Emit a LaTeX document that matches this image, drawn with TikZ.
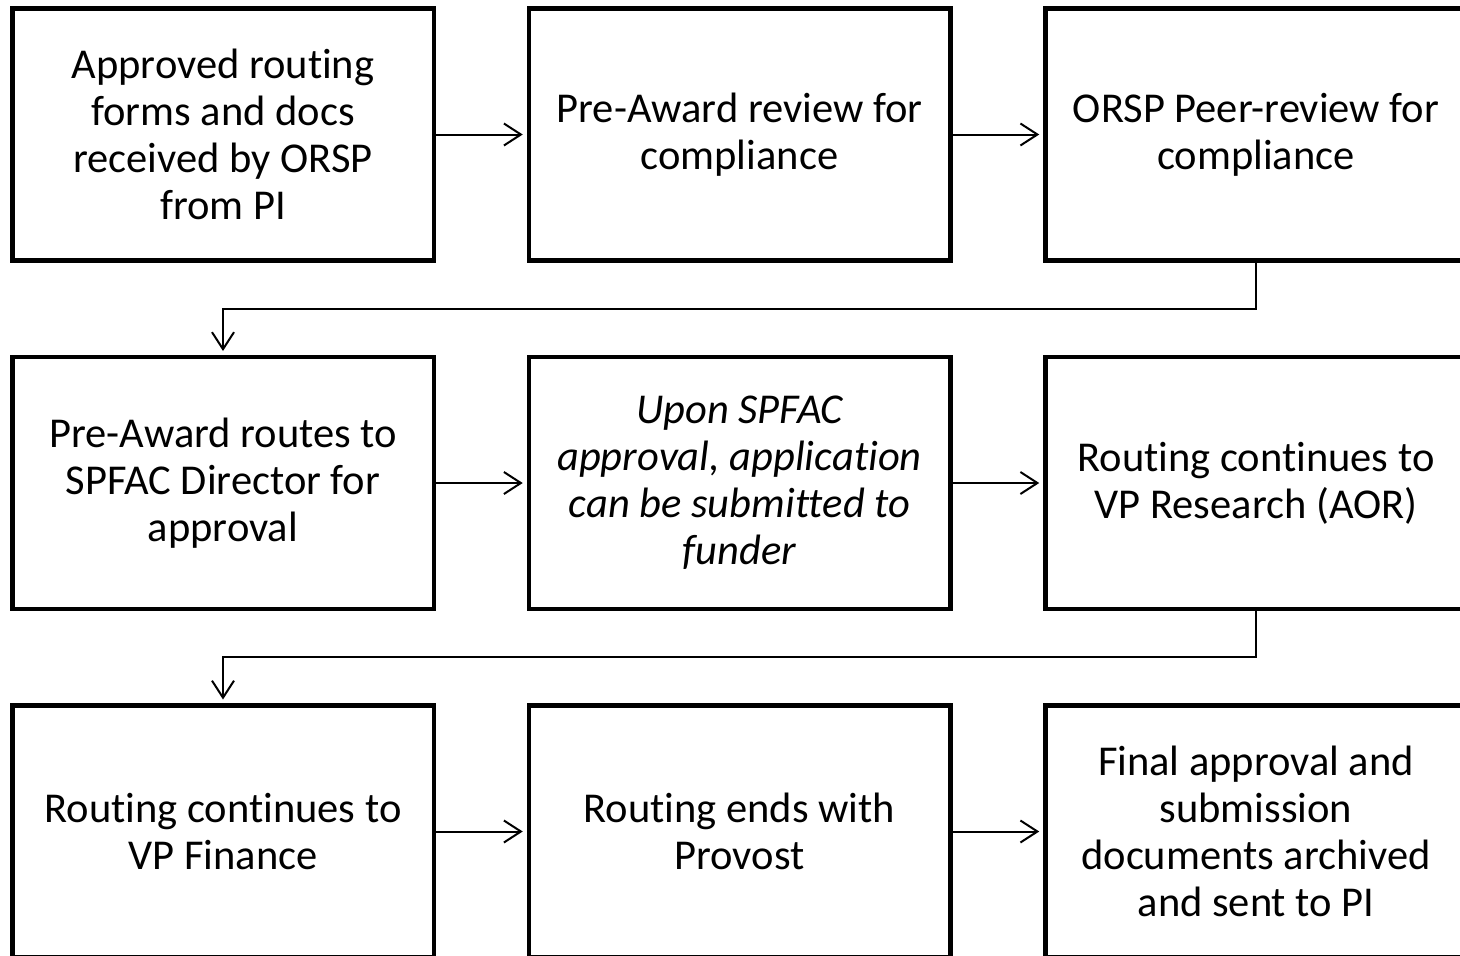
\documentclass[tikz,border=0pt]{standalone}
\usepackage{fontspec}
\setmainfont{Carlito}[Ligatures={NoCommon,NoContextual},Contextuals=NoAlternate]
\usetikzlibrary{positioning,arrows.meta}

\begin{document}
\begin{tikzpicture}[x=1pt,y=1pt,
    stepbox/.style={draw,line width=4.5pt,outer sep=0pt,minimum width=421.5pt,
      minimum height=252pt,align=center,font=\fontsize{42.5}{47}\selectfont},
    flow/.style={line width=2pt,-{Straight Barb[length=17pt,width=22pt]},shorten >=6pt},
    node distance=96.5pt and 95pt]
    \useasboundingbox (0,0) rectangle (1460,-956);
    \clip (0,0) rectangle (1460,-956);

    % first row
    \node[stepbox] (received) at (223,-134.5) {Approved routing\\forms and docs\\received by ORSP\\from PI};
    \node[stepbox,right=of received] (preaward) {Pre-Award review for\\compliance};
    \node[stepbox,right=of preaward] (peer) {ORSP Peer-review for\\compliance};

    % second row
    \node[stepbox,below=of received] (spfac) {Pre-Award routes to\\SPFAC Director for\\approval};
    \node[stepbox,right=of spfac,font=\fontsize{42.5}{47}\selectfont\itshape] (submit) {Upon SPFAC\\approval, application\\can be submitted to\\funder};
    \node[stepbox,right=of submit] (vpres) {Routing continues to\\VP Research (AOR)};

    % third row
    \node[stepbox,below=of spfac] (vpfin) {Routing continues to\\VP Finance};
    \node[stepbox,right=of vpfin] (provost) {Routing ends with\\Provost};
    \node[stepbox,right=of provost] (archive) {Final approval and\\submission\\documents archived\\and sent to PI};

    % arrows
    \draw[flow] (received) -- (preaward);
    \draw[flow] (preaward) -- (peer);
    \draw[flow] (peer.south) -- ++(0,-48) -| (spfac.north);
    \draw[flow] (spfac) -- (submit);
    \draw[flow] (submit) -- (vpres);
    \draw[flow] (vpres.south) -- ++(0,-48) -| (vpfin.north);
    \draw[flow] (vpfin) -- (provost);
    \draw[flow] (provost) -- (archive);
\end{tikzpicture}
\end{document}
